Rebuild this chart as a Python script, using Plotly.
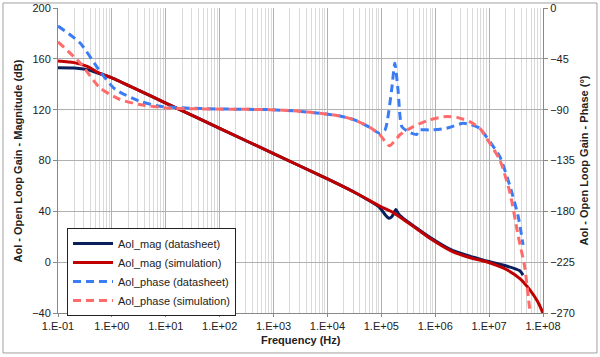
import plotly.graph_objects as go

# ---- data (frequency in Hz, magnitude in dB, phase in degrees) ----
mag_ds_freq = [1e-1, 2e-1, 3.5e-1, 5e-1, 6.3e-1, 1e0, 3.16e0, 1e1, 1e2, 1e3, 1e4, 3.16e4,
               9.3e4, 1.2e5, 1.38e5, 1.58e5, 1.86e5, 2.09e5, 2.82e5, 3.98e5, 7.94e5,
               2.14e6, 8.9e6, 2.09e7, 3.72e7, 4.27e7]
mag_ds_db = [153.0, 152.8, 151.5, 149.4, 148.0, 145.1, 135.2, 125.2, 105.3, 85.4, 65.5, 55.0,
             43.0, 37.0, 34.5, 36.0, 41.5, 38.0, 33.0, 28.5, 19.6,
             9.0, 1.0, -3.0, -6.8, -10.2]

mag_sim_freq = [1e-1, 2e-1, 3.5e-1, 6e-1, 1e0, 3.16e0, 1e1, 1e2, 1e3, 1e4, 3.16e4, 1e5,
                1.66e5, 3.16e5, 5.25e5, 7.94e5, 2.14e6, 4.47e6, 8.9e6, 2.09e7,
                3.72e7, 5.75e7, 7.94e7, 1e8]
mag_sim_db = [158.3, 157.0, 154.0, 148.5, 145.1, 135.2, 125.2, 105.3, 85.4, 65.5, 55.0, 43.5,
              39.0, 31.0, 24.3, 18.8, 8.1, 3.5, 0.3, -5.8,
              -12.9, -22.0, -31.0, -40.0]

ph_ds_freq = [1e-1, 2.57e-1, 6e-1, 1.15e0, 3.3e0, 7.8e0, 4.27e1, 3.16e2, 8.5e2, 2.7e3,
              7.2e3, 1.7e4, 3.16e4, 6.3e4, 9.3e4, 1.17e5, 1.55e5, 1.78e5, 2.04e5,
              2.4e5, 3.16e5, 4.52e5, 5.0e5, 7.94e5, 1.62e6, 3.3e6, 4.37e6, 6.76e6,
              8.9e6, 1.58e7, 2.45e7, 3.47e7, 4.27e7]
ph_ds_deg = [-16.0, -31.0, -56.0, -72.0, -82.6, -87.0, -89.0, -89.7, -90.0, -91.2,
             -93.2, -95.6, -99.0, -106.0, -111.0, -108.0, -72.6, -49.0, -72.6,
             -105.0, -109.5, -112.0, -108.0, -108.0, -106.5, -102.0, -103.0, -106.5,
             -114.0, -131.6, -158.0, -184.7, -209.7]

ph_sim_freq = [1e-1, 2.57e-1, 6e-1, 1.41e0, 3.3e0, 1.05e1, 4.27e1, 3.16e2, 8.5e2, 2.7e3,
               7.2e3, 1.7e4, 3.16e4, 6.3e4, 9.3e4, 1.41e5, 2.24e5, 3.9e5, 7.94e5,
               1.62e6, 2.51e6, 4.37e6, 6.76e6, 8.9e6, 1.58e7, 2.45e7, 3.47e7, 4.57e7,
               5.75e7]
ph_sim_deg = [-30.0, -48.6, -70.7, -81.0, -85.5, -88.5, -89.3, -89.7, -90.0, -91.2,
              -93.2, -95.6, -99.0, -106.0, -112.0, -122.0, -112.0, -105.0, -99.0,
              -96.0, -96.8, -100.6, -106.5, -115.0, -134.5, -164.0, -202.0, -229.0,
              -270.0]

x_tick_vals = [1e-1, 1e0, 1e1, 1e2, 1e3, 1e4, 1e5, 1e6, 1e7, 1e8]
x_tick_text = ["1.E-01", "1.E+00", "1.E+01", "1.E+02", "1.E+03", "1.E+04",
               "1.E+05", "1.E+06", "1.E+07", "1.E+08"]

FONT = "Liberation Sans, Arial, sans-serif"
TXT = "#222222"
minor_vals = [m * 10 ** k for k in range(-1, 8) for m in range(2, 10)]

fig = go.Figure()
fig.add_trace(go.Scatter(x=mag_ds_freq, y=mag_ds_db, name="Aol_mag (datasheet)", mode="lines",
                         line=dict(color="#0a1f5c", width=3, shape="spline", smoothing=0.6)))
fig.add_trace(go.Scatter(x=mag_sim_freq, y=mag_sim_db, name="Aol_mag (simulation)", mode="lines",
                         line=dict(color="#c00000", width=3, shape="spline", smoothing=0.6)))
fig.add_trace(go.Scatter(x=ph_ds_freq, y=ph_ds_deg, name="Aol_phase (datasheet)", mode="lines",
                         yaxis="y2",
                         line=dict(color="#3a7cf4", width=3, dash="8px,5px", shape="spline",
                                   smoothing=0.6)))
fig.add_trace(go.Scatter(x=ph_sim_freq, y=ph_sim_deg, name="Aol_phase (simulation)", mode="lines",
                         yaxis="y2",
                         line=dict(color="#ff6a6a", width=3, dash="8px,5px", shape="spline",
                                   smoothing=0.6)))

fig.update_layout(
    width=600, height=357,
    margin=dict(l=58, r=57, t=8, b=44, autoexpand=False),
    paper_bgcolor="white", plot_bgcolor="white",
    font=dict(family=FONT, size=11, color=TXT),
    showlegend=True,
    legend=dict(x=0.0186, y=0.279, xanchor="left", yanchor="top",
                bgcolor="white", bordercolor=TXT, borderwidth=1,
                font=dict(size=11, family=FONT, color=TXT),
                tracegroupgap=0, itemwidth=40),
    xaxis=dict(type="log", range=[-1, 8], tickvals=x_tick_vals, ticktext=x_tick_text,
               automargin=False,
               showgrid=True, gridcolor="#b0b0b0", gridwidth=1,
               minor=dict(tickvals=minor_vals, showgrid=True, gridcolor="#d9d9d9",
                          gridwidth=1, ticks=""),
               showline=True, linecolor="#888888", linewidth=1,
               ticks="outside", ticklen=3, tickcolor="#888888",
               zeroline=False, tickangle=0),
    yaxis=dict(range=[-40, 200], tickvals=[-40, 0, 40, 80, 120, 160, 200],
               automargin=False,
               showgrid=True, gridcolor="#b0b0b0", gridwidth=1, zeroline=False,
               showline=True, linecolor="#888888", linewidth=1,
               ticks="outside", ticklen=4, tickcolor="#888888"),
    yaxis2=dict(range=[-270, 0], tickvals=[-270, -225, -180, -135, -90, -45, 0],
                automargin=False,
                overlaying="y", side="right", showgrid=False, zeroline=False,
                showline=True, linecolor="#888888", linewidth=1,
                ticks="outside", ticklen=4, tickcolor="#888888"),
    annotations=[
        dict(text="<b>Frequency (Hz)</b>", xref="paper", yref="paper", x=0.5, y=-0.089,
             showarrow=False, xanchor="center", yanchor="middle",
             font=dict(size=11, family=FONT, color=TXT)),
        dict(text="<b>Aol - Open Loop Gain - Magnitude (dB)</b>", xref="paper", yref="paper",
             x=-0.0825, y=0.5, textangle=-90, showarrow=False,
             xanchor="center", yanchor="middle", font=dict(size=11, family=FONT, color=TXT)),
        dict(text="<b>Aol - Open Loop Gain - Phase (°)</b>", xref="paper", yref="paper",
             x=1.0825, y=0.5, textangle=-90, showarrow=False,
             xanchor="center", yanchor="middle", font=dict(size=11, family=FONT, color=TXT)),
    ],
    shapes=[dict(type="rect", xref="paper", yref="paper",
                 x0=-0.1134, x1=1.1113, y0=-0.131, y1=1.0164,
                 line=dict(color="#a0a0a0", width=1), fillcolor="rgba(0,0,0,0)",
                 layer="below")],
)

fig.write_html("out.html", config={"displayModeBar": False},
               post_script="document.body.style.margin='0';")
